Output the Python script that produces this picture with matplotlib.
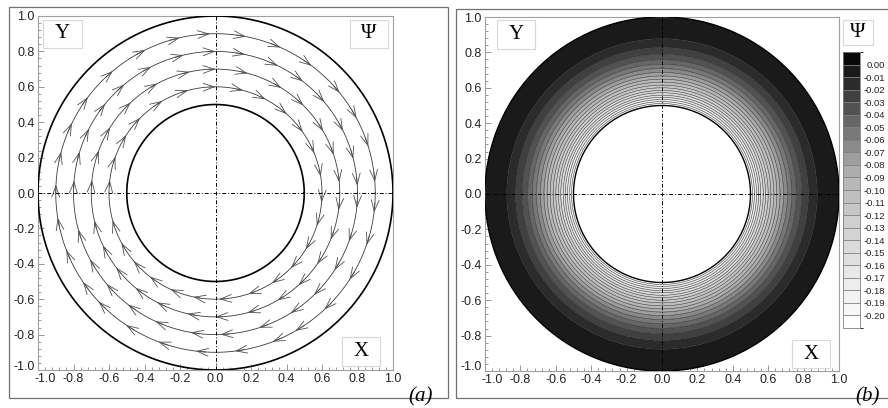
import numpy as np
import matplotlib
matplotlib.use('Agg')
import matplotlib.pyplot as plt
from matplotlib.patches import Wedge, Rectangle
from matplotlib.ticker import AutoMinorLocator
import matplotlib.colors as mcolors
import matplotlib.cm as cm
import matplotlib.transforms as mtrans

plt.rcParams['axes.unicode_minus'] = False
SANS = ['Liberation Sans', 'DejaVu Sans']
SERIF = ['Liberation Serif', 'DejaVu Serif']

# ---------------- data ----------------
R_OUTER = 1.0
R_INNER = 0.5
stream_radii = [0.6, 0.7, 0.8, 0.9]
arrow_angles_06 = [173, 160, 147, 135, 120, 105, 90, 75, 62, 48, 35, 22, 9, -5, -18, -32,
                   -45, -58, -72, -88, -102, -115, -128, -140, -152, -165]
arrow_angles_07 = [174, 160, 148, 133, 118, 102, 90, 75, 58, 45, 30, 18, 5, -8, -22, -35,
                   -48, -60, -75, -90, -103, -118, -130, -143, -155, -167]
arrow_angles_08 = [175, 163, 153, 141, 130, 117, 103, 90, 78, 64, 52, 40, 26, 14, 3, -6,
                   -20, -33, -46, -58, -72, -88, -100, -115, -128, -140, -152, -165]
arrow_angles_09 = [177, 165, 154, 143, 130, 116, 103, 92, 79, 66, 53, 39, 28, 17, 4, -7,
                   -19, -33, -47, -60, -69, -83, -97, -111, -124, -137, -146, -159, -171]
arrow_sets = [arrow_angles_06, arrow_angles_07, arrow_angles_08, arrow_angles_09]

psi_levels = [0.00, -0.01, -0.02, -0.03, -0.04, -0.05, -0.06, -0.07, -0.08, -0.09, -0.10,
              -0.11, -0.12, -0.13, -0.14, -0.15, -0.16, -0.17, -0.18, -0.19, -0.20]
level_radii = [1.000, 0.877, 0.827, 0.790, 0.759, 0.733, 0.709, 0.687, 0.667, 0.649, 0.632,
               0.615, 0.600, 0.585, 0.572, 0.558, 0.546, 0.534, 0.522, 0.511, 0.500]
band_greys = [0.03, 0.10, 0.17, 0.25, 0.32, 0.40, 0.47, 0.54, 0.62, 0.68, 0.72, 0.75,
              0.78, 0.81, 0.83, 0.86, 0.88, 0.91, 0.93, 0.95, 0.97, 1.00]   # top (black) -> bottom (white)
tick_vals = [-1.0, -0.8, -0.6, -0.4, -0.2, 0.0, 0.2, 0.4, 0.6, 0.8, 1.0]

# ---------------- figure ----------------
W, H = 888, 408
fig = plt.figure(figsize=(W / 100, H / 100), dpi=100)

def fx(px):
    return px / W

def fy(py):
    return 1 - py / H

# panel frames
fig.patches.append(Rectangle((fx(9), fy(398)), fx(448) - fx(9), fy(7) - fy(398),
                             transform=fig.transFigure, fill=False, ec='#707070', lw=0.9))
fig.patches.append(Rectangle((fx(456), fy(398)), fx(900) - fx(456), fy(9) - fy(398),
                             transform=fig.transFigure, fill=False, ec='#707070', lw=0.9))

ax_a = fig.add_axes([fx(38), fy(370), fx(393) - fx(38), fy(16) - fy(370)])
ax_b = fig.add_axes([fx(485), fy(371), fx(839) - fx(485), fy(17) - fy(371)])


def style_axes(ax):
    ax.set_xlim(-1, 1)
    ax.set_ylim(-1, 1)
    ax.set_xticks(tick_vals)
    ax.set_yticks(tick_vals)
    ax.set_xticklabels(['%.1f' % v for v in tick_vals])
    ax.set_yticklabels(['%.1f' % v for v in tick_vals])
    ax.xaxis.set_minor_locator(AutoMinorLocator(5))
    ax.yaxis.set_minor_locator(AutoMinorLocator(5))
    ax.tick_params(which='both', direction='in', color='#888888', width=0.6)
    ax.tick_params(which='major', length=4, labelsize=9, labelcolor='#222222', pad=2.5)
    ax.tick_params(which='minor', length=2)
    for lab in ax.get_xticklabels() + ax.get_yticklabels():
        lab.set_family(SANS)
    # corner labels: nudge apart as in the original (y label up, x label right)
    xl = ax.get_xticklabels()[0]
    yl = ax.get_yticklabels()[0]
    xl.set_transform(xl.get_transform() + mtrans.ScaledTranslation(7 / 100, 0, fig.dpi_scale_trans))
    yl.set_transform(yl.get_transform() + mtrans.ScaledTranslation(0, 5 / 100, fig.dpi_scale_trans))
    for s in ax.spines.values():
        s.set_color('#a0a0a0')
        s.set_linewidth(0.8)


def add_box(ax, x0, y0, x1, y1, txt, fs=15):
    ax.add_patch(Rectangle((x0, y0), x1 - x0, y1 - y0, transform=ax.transAxes,
                           fc='white', ec='#d8d8d8', lw=0.8, zorder=6))
    ax.text((x0 + x1) / 2, (y0 + y1) / 2, txt, transform=ax.transAxes, ha='center',
            va='center', fontsize=fs, family=SERIF, zorder=7)


def axis_lines(ax):
    ax.plot([-1, 1], [0, 0], color='black', lw=0.7, ls=(0, (4, 2, 1, 2)), zorder=5)
    ax.plot([0, 0], [-1, 1], color='black', lw=0.7, ls=(0, (4, 2, 1, 2)), zorder=5)


# ---------------- panel (a): streamlines ----------------
style_axes(ax_a)
theta = np.linspace(0, 2 * np.pi, 721)
for r in stream_radii:
    ax_a.plot(r * np.cos(theta), r * np.sin(theta), color='#3a3a3a', lw=0.6, zorder=3)
for r, angs in zip(stream_radii, arrow_sets):
    for a in angs:
        t = np.deg2rad(a)
        t0 = np.deg2rad(a + 3.5)
        ax_a.annotate('', xy=(r * np.cos(t), r * np.sin(t)),
                      xytext=(r * np.cos(t0), r * np.sin(t0)),
                      arrowprops=dict(arrowstyle='->,head_length=0.8,head_width=0.28',
                                      color='#505050', lw=0.6, shrinkA=0, shrinkB=0),
                      zorder=4)
ax_a.plot(R_OUTER * np.cos(theta), R_OUTER * np.sin(theta), color='black', lw=1.2, zorder=4)
ax_a.plot(R_INNER * np.cos(theta), R_INNER * np.sin(theta), color='black', lw=1.2, zorder=4)
axis_lines(ax_a)
add_box(ax_a, 0.014, 0.910, 0.124, 0.989, 'Y')
add_box(ax_a, 0.879, 0.910, 0.986, 0.989, 'Ψ')
add_box(ax_a, 0.856, 0.011, 0.963, 0.093, 'X')

# ---------------- panel (b): stream function contours ----------------
style_axes(ax_b)
cmap = mcolors.ListedColormap([str(g) for g in band_greys[::-1]])
bounds = [psi_levels[-1] - 0.01] + psi_levels[::-1] + [psi_levels[0] + 0.01]
norm = mcolors.BoundaryNorm(bounds, cmap.N)
for k in range(len(level_radii) - 1):
    mid = 0.5 * (psi_levels[k] + psi_levels[k + 1])
    r_out, r_in = level_radii[k], level_radii[k + 1]
    ax_b.add_patch(Wedge((0, 0), r_out, 0, 360, width=r_out - r_in,
                         fc=cmap(norm(mid)), ec='none', zorder=2))
for r in level_radii[1:-1]:
    ax_b.plot(r * np.cos(theta), r * np.sin(theta), color='#202020', lw=0.35, zorder=3)
ax_b.plot(R_OUTER * np.cos(theta), R_OUTER * np.sin(theta), color='black', lw=1.0, zorder=4)
ax_b.plot(R_INNER * np.cos(theta), R_INNER * np.sin(theta), color='black', lw=1.0, zorder=4)
axis_lines(ax_b)
add_box(ax_b, 0.034, 0.910, 0.141, 0.992, 'Y')
add_box(ax_b, 0.867, 0.008, 0.975, 0.088, 'X')

# Psi box above the legend
fig.patches.append(Rectangle((fx(843), fy(45)), fx(873) - fx(843), fy(20) - fy(45),
                             transform=fig.transFigure, fc='white', ec='#d8d8d8', lw=0.8))
fig.text((fx(843) + fx(873)) / 2, (fy(20) + fy(45)) / 2, 'Ψ', ha='center', va='center',
         fontsize=15, family=SERIF)

# legend / colorbar
cax = fig.add_axes([fx(843), fy(328), fx(860) - fx(843), fy(52) - fy(328)])
sm = cm.ScalarMappable(norm=norm, cmap=cmap)
cb = fig.colorbar(sm, cax=cax, boundaries=bounds, spacing='uniform', drawedges=True,
                  ticks=psi_levels)
cb.ax.set_yticklabels(['%.2f' % v for v in psi_levels])
cb.dividers.set_color('#808080')
cb.dividers.set_linewidth(0.6)
cb.outline.set_edgecolor('#808080')
cb.outline.set_linewidth(0.6)
cb.ax.tick_params(length=0, labelsize=6.8, pad=(885 - 860) * 0.72, labelcolor='#222222')
for lab in cb.ax.get_yticklabels():
    lab.set_ha('right')
    lab.set_family(SANS)

# panel labels
fig.text(fx(408), fy(406), '(a)', ha='left', va='bottom', fontsize=15, family=SERIF,
         style='italic')
fig.text(fx(855), fy(406), '(b)', ha='left', va='bottom', fontsize=15, family=SERIF,
         style='italic')

fig.savefig('out.png', dpi=100)
